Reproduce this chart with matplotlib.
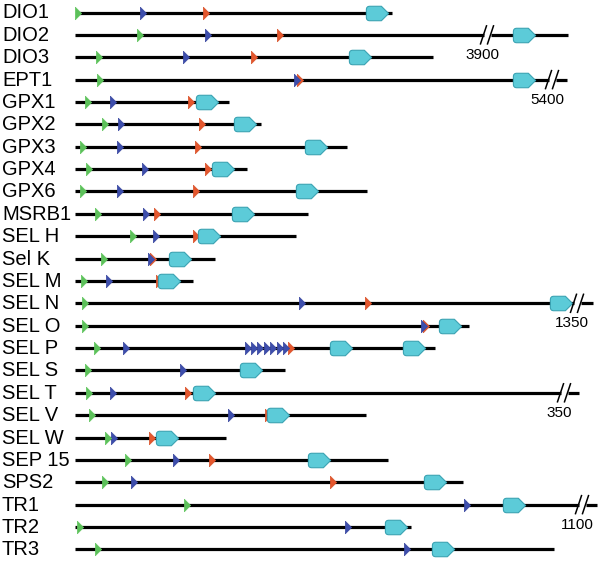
import matplotlib
matplotlib.use('Agg')
import matplotlib.pyplot as plt
from matplotlib.path import Path

plt.rcParams['font.family'] = ['Liberation Sans', 'DejaVu Sans']

# Genes, top to bottom
GENES = ["DIO1", "DIO2", "DIO3", "EPT1", "GPX1", "GPX2", "GPX3", "GPX4", "GPX6",
         "MSRB1", "SEL H", "Sel K", "SEL M", "SEL N", "SEL O", "SEL P", "SEL S",
         "SEL T", "SEL V", "SEL W", "SEP 15", "SPS2", "TR1", "TR2", "TR3"]

# Positions along each transcript (pixel scale of the drawing)
LINE_START = [77] + [75] * 24
LINE_END = [392, 568, 433, 567, 229, 261, 347, 247, 367, 308, 296, 215, 193,
            593, 469, 435, 285, 579, 366, 226, 388, 463, 597, 411, 554]
GREEN = [78, 140, 99, 100, 88, 105, 83, 89, 83, 98, 133, 104, 84, 85, 85, 97,
         88, 89, 92, 108, 128, 105, 187, 80, 98]
BLUE = [[143], [208], [186], [297], [113], [121], [120], [145], [120], [146],
        [156], [151], [109], [302], [424],
        [126, 248, 254, 260, 267, 273, 280, 286],
        [183], [113], [231], [114], [176], [134], [467], [348], [407]]
RED = [[206], [280], [254], [300], [191], [202], [198], [208], [196], [157],
       [196], [153], [159], [368], [426], [291], [], [188], [268], [152],
       [212], [333], [], [], []]
CYAN = [[377], [524], [360], [524], [207], [245], [316], [223], [307], [243],
        [209], [180], [169], [561], [450], [341, 414], [251], [204], [278],
        [167], [319], [435], [514], [396], [443]]

# Axis breaks: gene, break position, length label
BREAK_GENES = ["DIO2", "EPT1", "SEL N", "SEL T", "TR1"]
BREAK_POS = [487, 552, 577, 564, 582]
BREAK_LABELS = ["3900", "5400", "1350", "350", "1100"]

ROW_TOP = 12.5
ROW_STEP = 22.37

TRI = Path([(-0.5, -1), (0.5, 0), (-0.5, 1), (-0.5, -1)],
           [Path.MOVETO, Path.LINETO, Path.LINETO, Path.CLOSEPOLY])
# pentagon arrow with rounded back corners
PENT = Path([(-0.7, -0.65), (0.35, -0.65), (1, 0), (0.35, 0.65), (-0.7, 0.65),
             (-1, 0.65), (-1, 0.35), (-1, -0.35), (-1, -0.65), (-0.7, -0.65),
             (-0.7, -0.65)],
            [Path.MOVETO, Path.LINETO, Path.LINETO, Path.LINETO, Path.LINETO,
             Path.CURVE3, Path.CURVE3, Path.LINETO, Path.CURVE3, Path.CURVE3,
             Path.CLOSEPOLY])

fig = plt.figure(figsize=(6.0, 5.62), dpi=100)
ax = fig.add_axes([0, 0, 1, 1])
ax.set_xlim(0, 600)
ax.set_ylim(562, 0)
ax.axis("off")

for i, gene in enumerate(GENES):
    y = ROW_TOP + i * ROW_STEP
    ax.text(2, y + 0.5, gene, fontsize=14.5, va="center", ha="left", color="black")
    ax.plot([LINE_START[i], LINE_END[i]], [y, y], color="black", lw=2.3,
            solid_capstyle="butt", zorder=1)
    for x in RED[i]:
        ax.plot(x, y, marker=TRI, markersize=9, color="#e4572e",
                markeredgecolor="#d9532b", markeredgewidth=0.5, zorder=2)
    for x in BLUE[i]:
        ax.plot(x, y, marker=TRI, markersize=9, color="#3d4eac",
                markeredgecolor="#3a47a0", markeredgewidth=0.5, zorder=3)
    ax.plot(GREEN[i], y, marker=TRI, markersize=9, color="#5cc05a",
            markeredgecolor="#62c660", markeredgewidth=0.5, zorder=3)
    for x in CYAN[i]:
        ax.plot(x, y, marker=PENT, markersize=16, color="#5ccbd8",
                markeredgecolor="#3aa3b3", markeredgewidth=0.8, zorder=4)

# break marks "//"
for gene, bx, label in zip(BREAK_GENES, BREAK_POS, BREAK_LABELS):
    y = ROW_TOP + GENES.index(gene) * ROW_STEP
    ax.plot([bx - 3.5, bx + 3.5], [y, y], color="white", lw=3.5,
            solid_capstyle="butt", zorder=5)
    for dx in (-3.5, 3.5):
        ax.plot([bx + dx - 3, bx + dx + 3], [y + 9, y - 9], color="black",
                lw=1.1, zorder=6)
    ax.text(bx - 5, y + 20, label, fontsize=11, ha="center", va="center")

plt.savefig("out.png", dpi=100)
plt.close()
